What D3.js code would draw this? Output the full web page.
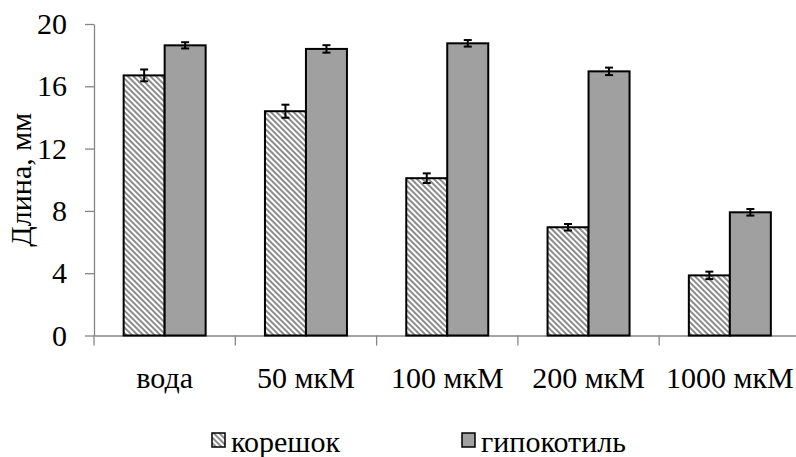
<!DOCTYPE html>
<html>
<head>
<meta charset="utf-8">
<script src="https://cdn.jsdelivr.net/npm/d3@7"></script>
<style>
  html, body { margin: 0; padding: 0; background: #fff; }
  svg { display: block; }
  svg text { font-family: 'Times New Roman', 'Liberation Serif', Tinos, 'Noto Serif', 'DejaVu Serif', serif !important; }
</style>
</head>
<body>
<div id="chart"></div>
<script>
// Categories along the x axis
const categories = ['вода', '50 мкМ', '100 мкМ', '200 мкМ', '1000 мкМ'];
// Series: root (hatched) and hypocotyl (grey), length in mm
const seriesNames = ['корешок', 'гипокотиль'];
const rootValues = [16.7, 14.4, 10.1, 6.95, 3.86];
const rootErrors = [0.38, 0.42, 0.31, 0.21, 0.24];
const hypoValues = [18.63, 18.4, 18.76, 16.96, 7.91];
const hypoErrors = [0.2, 0.24, 0.21, 0.24, 0.21];
const yTickValues = [0, 4, 8, 12, 16, 20];

const W = 796, H = 457;
const plot = { left: 94, top: 24, bottom: 335.5, right: 800.5 };
const barW = 41;

const svg = d3.select('#chart').append('svg')
  .attr('width', W).attr('height', H)
  .attr('viewBox', `0 0 ${W} ${H}`);

// hatch pattern for the root series: "\" diagonal lines
const defs = svg.append('defs');
defs.append('pattern')
  .attr('id', 'hatch')
  .attr('patternUnits', 'userSpaceOnUse')
  .attr('width', 4).attr('height', 4)
  .attr('patternTransform', 'rotate(-45)')
  .call((p) => {
    p.append('rect').attr('width', 4).attr('height', 4).attr('fill', '#fff');
    p.append('line')
      .attr('x1', 1).attr('x2', 1).attr('y1', 0).attr('y2', 4)
      .attr('stroke', '#8c8c8c').attr('stroke-width', 2);
  });

const x = d3.scaleBand().domain(categories).range([plot.left, plot.right]);
const x1 = d3.scaleBand().domain(seriesNames).range([0, barW * 2]);
const y = d3.scaleLinear().domain([0, 20]).range([plot.bottom, plot.top]);

const rows = categories.map((c, i) => ({
  cat: c,
  bars: [
    { name: seriesNames[0], value: rootValues[i], err: rootErrors[i], fill: 'url(#hatch)' },
    { name: seriesNames[1], value: hypoValues[i], err: hypoErrors[i], fill: '#a0a0a0' },
  ],
}));

// Y axis
const yAxis = svg.append('g')
  .attr('transform', `translate(${plot.left},0)`)
  .call(d3.axisLeft(y).tickValues(yTickValues).tickSize(9).tickPadding(18).tickSizeOuter(0));
yAxis.select('.domain').attr('stroke', '#868686').attr('stroke-width', 1.3);
yAxis.selectAll('.tick line').attr('stroke', '#868686').attr('stroke-width', 1.3);
yAxis.selectAll('.tick text')
  .attr('font-size', 30)
  .attr('fill', '#000');

// X axis: labels at band centres, tick marks at band edges
const xAxis = svg.append('g')
  .attr('transform', `translate(0,${plot.bottom})`)
  .call(d3.axisBottom(x).tickSize(0).tickPadding(31).tickSizeOuter(0));
xAxis.select('.domain').attr('stroke', '#868686').attr('stroke-width', 1.3);
xAxis.selectAll('.tick text')
  .attr('font-size', 30)
  .attr('fill', '#000');
xAxis.selectAll('.edge-tick')
  .data(categories)
  .enter()
  .append('line')
  .attr('x1', (d) => x(d)).attr('x2', (d) => x(d))
  .attr('y1', 0).attr('y2', 10)
  .attr('stroke', '#868686').attr('stroke-width', 1.3);

// Bars
const groups = svg.selectAll('.grp')
  .data(rows)
  .enter()
  .append('g')
  .attr('transform', (d) => `translate(${x(d.cat) + (x.bandwidth() - barW * 2) / 2},0)`);

groups.selectAll('rect')
  .data((d) => d.bars)
  .enter()
  .append('rect')
  .attr('x', (d) => x1(d.name))
  .attr('y', (d) => y(d.value))
  .attr('width', x1.bandwidth())
  .attr('height', (d) => y(0) - y(d.value))
  .attr('fill', (d) => d.fill)
  .attr('stroke', '#000')
  .attr('stroke-width', 2);

// Error bars
const errG = groups.selectAll('.err')
  .data((d) => d.bars)
  .enter()
  .append('g')
  .attr('stroke', '#000')
  .attr('stroke-width', 2);
errG.append('line')
  .attr('x1', (d) => x1(d.name) + x1.bandwidth() / 2)
  .attr('x2', (d) => x1(d.name) + x1.bandwidth() / 2)
  .attr('y1', (d) => y(d.value + d.err))
  .attr('y2', (d) => y(d.value - d.err));
[1, -1].forEach((s) => {
  errG.append('line')
    .attr('x1', (d) => x1(d.name) + x1.bandwidth() / 2 - 4)
    .attr('x2', (d) => x1(d.name) + x1.bandwidth() / 2 + 4)
    .attr('y1', (d) => y(d.value + s * d.err))
    .attr('y2', (d) => y(d.value + s * d.err));
});

// Y axis title
svg.append('text')
  .attr('transform', `translate(31,${(plot.top + plot.bottom) / 2}) rotate(-90)`)
  .attr('text-anchor', 'middle')
  .attr('font-size', 30)
  .attr('fill', '#000')
  .text('Длина, мм');

// Legend
const legendItems = [
  { name: seriesNames[0], fill: 'url(#hatch)', x: 212 },
  { name: seriesNames[1], fill: '#a0a0a0', x: 462 },
];
const legend = svg.selectAll('.legend')
  .data(legendItems)
  .enter()
  .append('g')
  .attr('transform', (d) => `translate(${d.x},433)`);
legend.append('rect')
  .attr('width', 13).attr('height', 14)
  .attr('fill', (d) => d.fill)
  .attr('stroke', '#000')
  .attr('stroke-width', 1.5);
legend.append('text')
  .attr('x', 19)
  .attr('y', 19)
  .attr('font-size', 30)
  .attr('fill', '#000')
  .text((d) => d.name);
</script>
</body>
</html>
